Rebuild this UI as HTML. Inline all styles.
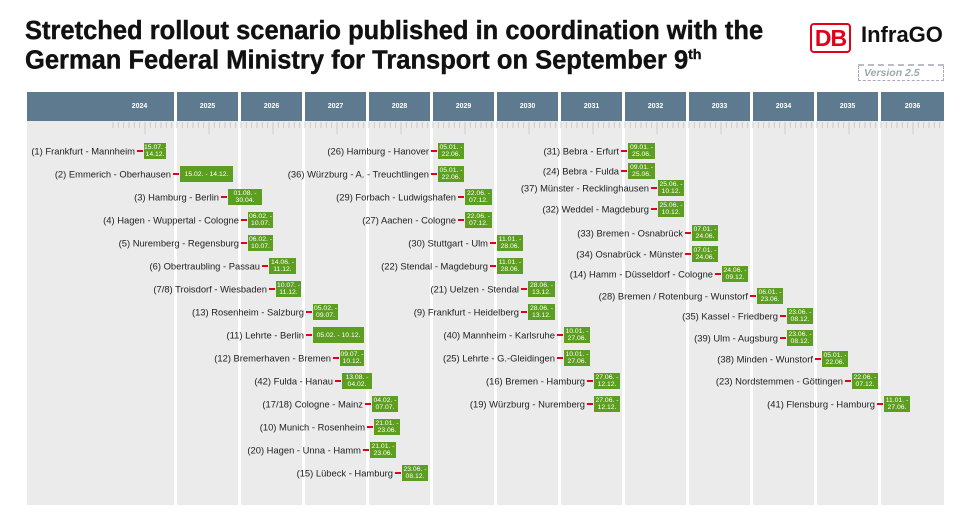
<!DOCTYPE html>
<html><head><meta charset="utf-8"><style>
body{margin:0;width:960px;height:514px;background:#fff;position:relative;overflow:hidden;font-family:"Liberation Sans",sans-serif}
.t{position:absolute;left:25px;font-weight:bold;font-size:25.5px;color:#111;letter-spacing:0px;white-space:nowrap;-webkit-text-stroke:0.4px #111}
.r{position:absolute;height:16px;background:#5c9e1f;color:#fff;font-size:6.8px;line-height:7.5px;text-align:center;padding-top:0.5px;box-sizing:border-box;white-space:nowrap}
.r.s{line-height:15px}
.r span{position:absolute;right:100%;top:50%;transform:translateY(-50%);padding-right:9px;white-space:nowrap;color:#222;font-size:9.4px;line-height:11px}
.r:before{content:"";position:absolute;right:100%;margin-right:1px;top:7px;width:6px;height:2px;background:#e2001a}
.h{position:absolute;top:92px;height:29px;background:#5e7a8e;color:#fff;font-weight:bold;font-size:7px;text-align:center;line-height:29px}
</style></head><body>
<div class="t" style="top:17px">Stretched rollout scenario published in coordination with the</div>
<div class="t" style="top:46px">German Federal Ministry for Transport on September 9<sup style="font-size:14px">th</sup></div>
<div style="position:absolute;left:810px;top:23px;width:37px;height:26px;border:2.5px solid #e2001a;border-radius:4px;color:#e2001a;font-weight:bold;font-size:23px;line-height:26px;text-align:center;letter-spacing:-1px">DB</div>
<div style="position:absolute;left:861px;top:22px;font-weight:bold;font-size:22px;color:#111">InfraGO</div>
<div style="position:absolute;left:858px;top:66px;width:84px;height:14px;border:1.5px dashed #aab;border-top:none;"></div>
<div style="position:absolute;left:858px;top:64px;width:86px;border-top:2px dashed #bbc"></div>
<div style="position:absolute;left:864px;top:67px;font-style:italic;font-weight:bold;font-size:10.5px;color:#9aa">Version 2.5</div>

<div style="position:absolute;left:27px;top:121px;width:917px;height:384px;background:#ebebeb"></div>
<svg style="position:absolute;left:0;top:0" width="960" height="514">
<g stroke="#fff" stroke-width="3">
<line x1="175.5" y1="92" x2="175.5" y2="505"/><line x1="239.5" y1="92" x2="239.5" y2="505"/><line x1="303.5" y1="92" x2="303.5" y2="505"/><line x1="367.5" y1="92" x2="367.5" y2="505"/><line x1="431.5" y1="92" x2="431.5" y2="505"/><line x1="495.5" y1="92" x2="495.5" y2="505"/><line x1="559.5" y1="92" x2="559.5" y2="505"/><line x1="623.5" y1="92" x2="623.5" y2="505"/><line x1="687.5" y1="92" x2="687.5" y2="505"/><line x1="751.5" y1="92" x2="751.5" y2="505"/><line x1="815.5" y1="92" x2="815.5" y2="505"/><line x1="879.5" y1="92" x2="879.5" y2="505"/>
</g>
<path d="M113 122v6M118.3 122v6M123.7 122v6M129 122v6M134.3 122v6M139.7 122v6M145 122v12M150.3 122v6M155.7 122v6M161 122v6M166.3 122v6M171.7 122v6" stroke="#c4c4c4" stroke-width="0.8" id="p0"/>
<use href="#p0" x="64"/><use href="#p0" x="128"/><use href="#p0" x="192"/><use href="#p0" x="256"/><use href="#p0" x="320"/><use href="#p0" x="384"/><use href="#p0" x="448"/><use href="#p0" x="512"/><use href="#p0" x="576"/><use href="#p0" x="640"/><use href="#p0" x="704"/><use href="#p0" x="768"/>
</svg>
<div class="h" style="left:27px;width:147px;padding-left:78px;box-sizing:border-box">2024</div>
<div class="h" style="left:177px;width:61px">2025</div>
<div class="h" style="left:241px;width:61px">2026</div>
<div class="h" style="left:305px;width:61px">2027</div>
<div class="h" style="left:369px;width:61px">2028</div>
<div class="h" style="left:433px;width:61px">2029</div>
<div class="h" style="left:497px;width:61px">2030</div>
<div class="h" style="left:561px;width:61px">2031</div>
<div class="h" style="left:625px;width:61px">2032</div>
<div class="h" style="left:689px;width:61px">2033</div>
<div class="h" style="left:753px;width:61px">2034</div>
<div class="h" style="left:817px;width:61px">2035</div>
<div class="h" style="left:881px;width:63px">2036</div>

<div class="r" style="left:144px;top:143px;width:22px"><span>(1) Frankfurt - Mannheim</span>15.07. -<br>14.12.</div>
<div class="r s" style="left:180px;top:166px;width:53px"><span>(2) Emmerich - Oberhausen</span>15.02. - 14.12.</div>
<div class="r" style="left:228px;top:189px;width:34px"><span>(3) Hamburg - Berlin</span>01.08. -<br>30.04.</div>
<div class="r" style="left:248px;top:212px;width:25px"><span>(4) Hagen - Wuppertal - Cologne</span>06.02. -<br>10.07.</div>
<div class="r" style="left:248px;top:235px;width:25px"><span>(5) Nuremberg - Regensburg</span>06.02. -<br>10.07.</div>
<div class="r" style="left:269px;top:258px;width:27px"><span>(6) Obertraubling - Passau</span>14.06. -<br>11.12.</div>
<div class="r" style="left:276px;top:281px;width:25px"><span>(7/8) Troisdorf - Wiesbaden</span>10.07. -<br>11.12.</div>
<div class="r" style="left:313px;top:304px;width:25px"><span>(13) Rosenheim - Salzburg</span>05.02. -<br>09.07.</div>
<div class="r s" style="left:313px;top:327px;width:51px"><span>(11) Lehrte - Berlin</span>05.02. - 10.12.</div>
<div class="r" style="left:340px;top:350px;width:24px"><span>(12) Bremerhaven - Bremen</span>09.07. -<br>10.12.</div>
<div class="r" style="left:342px;top:373px;width:30px"><span>(42) Fulda - Hanau</span>13.08. -<br>04.02.</div>
<div class="r" style="left:372px;top:396px;width:26px"><span>(17/18) Cologne - Mainz</span>04.02. -<br>07.07.</div>
<div class="r" style="left:374px;top:419px;width:26px"><span>(10) Munich - Rosenheim</span>21.01. -<br>23.06.</div>
<div class="r" style="left:370px;top:442px;width:26px"><span>(20) Hagen - Unna - Hamm</span>21.01. -<br>23.06.</div>
<div class="r" style="left:402px;top:465px;width:26px"><span>(15) Lübeck - Hamburg</span>23.06. -<br>08.12.</div>

<div class="r" style="left:438px;top:143px;width:26px"><span>(26) Hamburg - Hanover</span>05.01. -<br>22.06.</div>
<div class="r" style="left:438px;top:166px;width:26px"><span>(36) Würzburg - A. - Treuchtlingen</span>05.01. -<br>22.06.</div>
<div class="r" style="left:465px;top:189px;width:27px"><span>(29) Forbach - Ludwigshafen</span>22.06. -<br>07.12.</div>
<div class="r" style="left:465px;top:212px;width:27px"><span>(27) Aachen - Cologne</span>22.06. -<br>07.12.</div>
<div class="r" style="left:497px;top:235px;width:26px"><span>(30) Stuttgart - Ulm</span>11.01. -<br>28.06.</div>
<div class="r" style="left:497px;top:258px;width:26px"><span>(22) Stendal - Magdeburg</span>11.01. -<br>28.06.</div>
<div class="r" style="left:528px;top:281px;width:27px"><span>(21) Uelzen - Stendal</span>28.06. -<br>13.12.</div>
<div class="r" style="left:528px;top:304px;width:27px"><span>(9) Frankfurt - Heidelberg</span>28.06. -<br>13.12.</div>
<div class="r" style="left:564px;top:327px;width:26px"><span>(40) Mannheim - Karlsruhe</span>10.01. -<br>27.06.</div>
<div class="r" style="left:564px;top:350px;width:26px"><span>(25) Lehrte - G.-Gleidingen</span>10.01. -<br>27.06.</div>
<div class="r" style="left:594px;top:373px;width:26px"><span>(16) Bremen - Hamburg</span>27.06. -<br>12.12.</div>
<div class="r" style="left:594px;top:396px;width:26px"><span>(19) Würzburg - Nuremberg</span>27.06. -<br>12.12.</div>

<div class="r" style="left:628px;top:143px;width:27px"><span>(31) Bebra - Erfurt</span>09.01. -<br>25.06.</div>
<div class="r" style="left:628px;top:163px;width:27px"><span>(24) Bebra - Fulda</span>09.01. -<br>25.06.</div>
<div class="r" style="left:658px;top:180px;width:26px"><span>(37) Münster - Recklinghausen</span>25.06. -<br>10.12.</div>
<div class="r" style="left:658px;top:201px;width:26px"><span>(32) Weddel - Magdeburg</span>25.06. -<br>10.12.</div>
<div class="r" style="left:692px;top:225px;width:26px"><span>(33) Bremen - Osnabrück</span>07.01. -<br>24.06.</div>
<div class="r" style="left:692px;top:246px;width:26px"><span>(34) Osnabrück - Münster</span>07.01. -<br>24.06.</div>
<div class="r" style="left:722px;top:266px;width:26px"><span>(14) Hamm - Düsseldorf - Cologne</span>24.06. -<br>09.12.</div>
<div class="r" style="left:757px;top:288px;width:26px"><span>(28) Bremen / Rotenburg - Wunstorf</span>06.01. -<br>23.06.</div>
<div class="r" style="left:787px;top:308px;width:26px"><span>(35) Kassel - Friedberg</span>23.06. -<br>08.12.</div>
<div class="r" style="left:787px;top:330px;width:26px"><span>(39) Ulm - Augsburg</span>23.06. -<br>08.12.</div>
<div class="r" style="left:822px;top:351px;width:26px"><span>(38) Minden - Wunstorf</span>05.01. -<br>22.06.</div>
<div class="r" style="left:852px;top:373px;width:26px"><span>(23) Nordstemmen - Göttingen</span>22.06. -<br>07.12.</div>
<div class="r" style="left:884px;top:396px;width:26px"><span>(41) Flensburg - Hamburg</span>11.01. -<br>27.06.</div>
</body></html>
